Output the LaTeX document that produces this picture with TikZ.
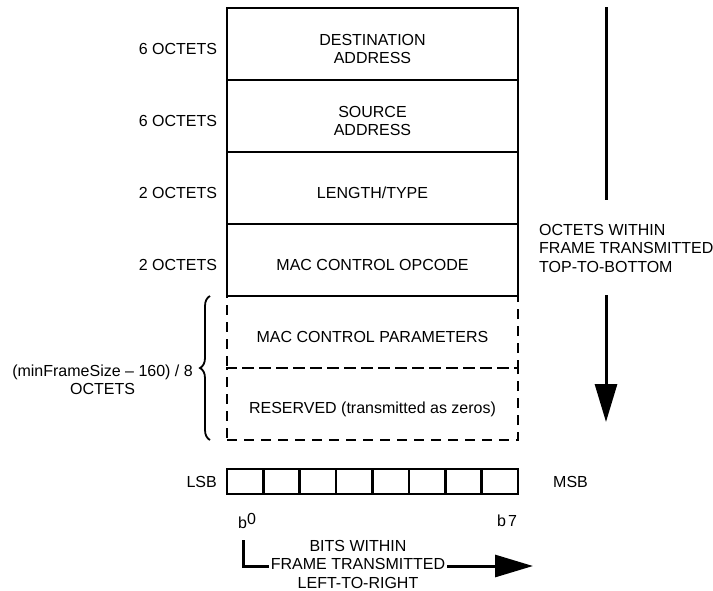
\documentclass[tikz,border=0pt]{standalone}
\usepackage{fontspec}
\setmainfont{Liberation Sans}
\usetikzlibrary{arrows.meta, positioning, decorations.pathreplacing}

\begin{document}
\begin{tikzpicture}[
    x=1pt, y=-1pt,
    font=\fontsize{16}{18.5}\selectfont,
    node distance=0pt,
    field/.style={rectangle, draw, line width=2.6pt, minimum width=291pt, minimum height=72pt, inner sep=0pt, outer sep=0pt},
    optfield/.style={field, dash pattern=on 10pt off 7pt},
    fieldtext/.style={align=center, inner sep=0pt, yshift=-5pt},
    bitcell/.style={rectangle, draw, line width=2.6pt, minimum width=36.375pt, minimum height=25pt, inner sep=0pt, outer sep=0pt},
    octlabel/.style={inner sep=0pt, outer sep=0pt, yshift=-5pt},
    note/.style={align=left, inner sep=0pt},
    bigarrow/.style={-{Triangle[length=38pt, width=22pt]}, line width=3pt}
]
\useasboundingbox (0,0) rectangle (713,590);

% Frame fields
\node[field, label={[fieldtext]center:{DESTINATION\\ADDRESS}}] (dst) at (372.5,44) {};
\node[field, below=of dst, label={[fieldtext]center:{SOURCE\\ADDRESS}}] (src) {};
\node[field, below=of src, label={[fieldtext]center:LENGTH/TYPE}] (lentype) {};
\node[field, below=of lentype, label={[fieldtext]center:MAC CONTROL OPCODE}] (opcode) {};
\node[optfield, below=of opcode, label={[fieldtext]center:MAC CONTROL PARAMETERS}] (params) {};
\node[optfield, below=of params, label={[fieldtext]center:RESERVED (transmitted as zeros)}] (rsvd) {};

% Field sizes
\node[octlabel, left=10pt of dst] {6 OCTETS};
\node[octlabel, left=10pt of src] {6 OCTETS};
\node[octlabel, left=10pt of lentype] {2 OCTETS};
\node[octlabel, left=10pt of opcode] {2 OCTETS};

% Brace for the variable part
\coordinate (bracebot) at ([xshift=-17pt]rsvd.south west);
\coordinate (bracetop) at ([xshift=-17pt]params.north west);
\draw[decorate, decoration={brace, amplitude=10pt}, line width=1.8pt] (bracebot) -- (bracetop);
\node[inner sep=0pt, align=center, anchor=east] (varsize) at (193,380) {(minFrameSize -- 160) / 8\\OCTETS};

% Octet order
\coordinate (octtop) at (606,7);
\coordinate (octgapa) at (606,200);
\coordinate (octgapb) at (606,295);
\coordinate (octtip) at (606,422);
\node[note, anchor=west] (octnote) at (539,248) {OCTETS WITHIN\\FRAME TRANSMITTED\\TOP-TO-BOTTOM};
\draw[line width=3pt] (octtop) -- (octgapa);
\draw[bigarrow] (octgapb) -- (octtip);

% Bits of an octet
\node[bitcell] (bit0) at (245.19,481.5) {};
\foreach \i [evaluate=\i as \j using int(\i-1)] in {1,...,7}
    \node[bitcell, right=of bit\j] (bit\i) {};
\node[inner sep=0pt, left=10pt of bit0] (lsb) {LSB};
\node[inner sep=0pt, right=35pt of bit7] (msb) {MSB};
\node (b0lbl) at (247,521) {b\raisebox{4pt}{0}};
\node (b7lbl) at (507,521) {b\hspace{2pt}7};

% Bit order
\coordinate (bitstart) at (243,540);
\coordinate (bitend) at (533,566);
\draw[bigarrow] (bitstart) |- (bitend);
\node[fill=white, align=center, inner xsep=2pt, inner ysep=0pt] (bitnote) at (358,564) {BITS WITHIN\\FRAME TRANSMITTED\\LEFT-TO-RIGHT};

\end{tikzpicture}
\end{document}
